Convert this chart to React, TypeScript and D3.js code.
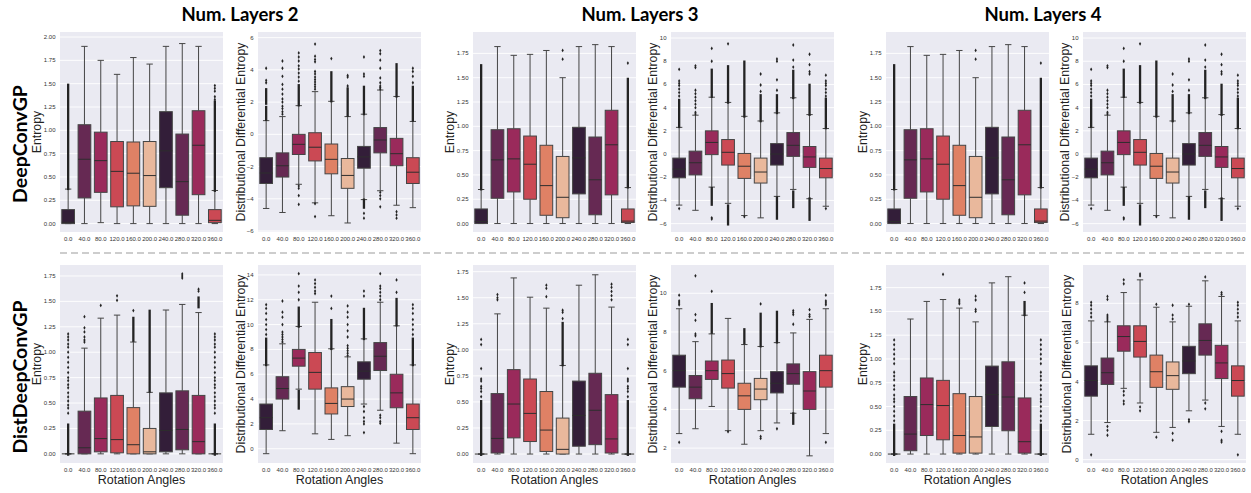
import React from "react";
import * as d3 from "d3";

// Rotation angles on the x axis of every panel
const ANGLES = ["0.0", "40.0", "80.0", "120.0", "160.0", "200.0", "240.0", "280.0", "320.0", "360.0"];

// Seaborn "rocket" (6 colours, desaturated by boxplot), cycled over the 10 angles
const BOX_COLORS = ["#331e39", "#662953", "#9a2a5b", "#cb4954", "#df8165", "#e9b89c", "#331e39", "#662953", "#9a2a5b", "#cb4954"];

const LAYER_TITLES = ["Num. Layers 2", "Num. Layers 3", "Num. Layers 4"];
const MODEL_LABELS = ["DeepConvGP", "DistDeepConvGP"];

// Tick values
const ENT_TICKS_2 = [0, 0.25, 0.5, 0.75, 1.0, 1.25, 1.5, 1.75, 2.0];
const ENT_TICKS = [0, 0.25, 0.5, 0.75, 1.0, 1.25, 1.5, 1.75];
const DDE_TICKS_6 = [-6, -4, -2, 0, 2, 4, 6];
const DDE_TICKS_10 = [-6, -4, -2, 0, 2, 4, 6, 8, 10];
const DDE_TICKS_14 = [0, 2, 4, 6, 8, 10, 12, 14];
const DDE_TICKS_2_10 = [2, 4, 6, 8, 10];
const DDE_TICKS_0_8 = [0, 2, 4, 6, 8];

// Box statistics per angle: [lower whisker, q1, median, q3, upper whisker]
type Stat = [number, number, number, number, number];
// Fliers: single values, or [lo, hi] for a dense run of overlapping fliers
type Flier = number | [number, number];

// ---------- DeepConvGP, 2 layers ----------
const ENT_DEEP_L2: Stat[] = [
  [0, 0, 0.015, 0.15, 0.37],
  [0, 0.275, 0.69, 1.06, 1.9],
  [0.01, 0.335, 0.675, 0.98, 1.75],
  [0, 0.18, 0.56, 0.88, 1.6],
  [0, 0.19, 0.54, 0.875, 1.78],
  [0, 0.185, 0.515, 0.88, 1.71],
  [0, 0.385, 0.78, 1.2, 1.9],
  [0, 0.09, 0.45, 0.96, 1.93],
  [0, 0.31, 0.84, 1.21, 1.9],
  [0, 0.01, 0.035, 0.15, 0.355],
];
const ENT_DEEP_L2_FLIERS: Flier[][] = [
  [[0.38, 1.48]],
  [], [], [], [], [], [], [], [],
  [[0.36, 1.3], 1.33, 1.36, 1.42, 1.45, 1.48],
];
const DDE_DEEP_L2: Stat[] = [
  [-4.6, -3.05, -2.4, -1.45, 0.85],
  [-4.85, -2.65, -1.95, -1.15, 1.1],
  [-3.1, -1.25, -0.62, 0.0, 1.78],
  [-4.25, -1.65, -0.8, 0.1, 2.65],
  [-5.05, -2.45, -1.55, -0.6, 2.05],
  [-5.5, -3.35, -2.55, -1.5, 1.1],
  [-4.05, -2.1, -1.4, -0.75, 1.25],
  [-3.5, -1.15, -0.35, 0.42, 2.75],
  [-4.4, -1.95, -1.2, -0.25, 2.35],
  [-4.55, -3.05, -2.35, -1.45, 0.8],
];
const DDE_DEEP_L2_FLIERS: Flier[][] = [
  [[0.95, 1.65], [1.95, 2.75], 3.2, 3.35, 4.1],
  [1.25, 1.4, 1.6, 1.75, 2.0, 2.2, 2.5, 2.8, 3.1, 3.6, 4.1, 4.55],
  [[1.85, 3.0], 3.3, 3.55, 3.8, 4.05, 4.25, 4.55, 4.8, 5.05, -3.2, -3.35, -3.8, -4.35],
  [2.8, 2.95, 3.1, 3.25, 3.4, 3.55, 3.75, 3.9, 4.5, 4.65, 4.85, 5.6, -4.3, -5.1],
  [[2.1, 3.8], 4.7],
  [[1.2, 2.8], 3.0, 3.55, 3.65],
  [[1.3, 2.9], 3.6, 3.75, 4.8, [-4.5, -4.1], -4.9, -5.2],
  [2.8, 2.9, 3.0, 3.2, 3.5, 4.1, 4.6, 5.0, 5.2, -3.6, -3.8, -4.0, -4.5],
  [[2.4, 4.3], -4.8, -5.0, -5.2],
  [[0.9, 2.9], 3.2, 3.6, 3.9, 4.1],
];

// ---------- DeepConvGP, 3 layers ----------
const ENT_DEEP_L3: Stat[] = [
  [0, 0, 0.02, 0.15, 0.35],
  [0, 0.26, 0.655, 0.965, 1.82],
  [0, 0.325, 0.665, 0.975, 1.73],
  [0, 0.25, 0.61, 0.9, 1.74],
  [0, 0.085, 0.39, 0.805, 1.78],
  [0, 0.06, 0.27, 0.69, 1.5],
  [0, 0.305, 0.675, 0.99, 1.82],
  [0, 0.09, 0.45, 0.89, 1.84],
  [0, 0.295, 0.81, 1.165, 1.82],
  [0, 0.01, 0.025, 0.15, 0.37],
];
const ENT_DEEP_L3_FLIERS: Flier[][] = [
  [[0.36, 1.62]],
  [], [], [], [],
  [1.69, 1.78],
  [], [], [],
  [[0.38, 1.48], 1.65],
];
const DDE_DEEP_L3: Stat[] = [
  [-4.4, -2.05, -1.3, -0.35, 2.3],
  [-4.85, -1.8, -0.75, 0.25, 3.35],
  [-2.85, -0.05, 1.0, 2.0, 4.9],
  [-4.25, -0.95, 0.15, 1.25, 4.45],
  [-5.3, -2.1, -1.05, 0.05, 3.25],
  [-5.5, -2.5, -1.55, -0.35, 2.85],
  [-3.65, -0.95, 0.0, 0.9, 3.55],
  [-3.05, -0.2, 0.75, 1.85, 4.85],
  [-3.85, -1.15, -0.25, 0.65, 3.4],
  [-4.5, -2.05, -1.25, -0.35, 2.2],
];
const DDE_DEEP_L3_FLIERS: Flier[][] = [
  [[2.4, 4.6], 5.0, 5.3, 5.6, 5.9, 6.1, 6.3, 7.3, -4.7],
  [3.45, 3.6, 4.0, 4.3, 4.6, 4.9, 5.2, 5.5, 7.45, 7.6],
  [[5.0, 7.2], 8.0, 9.1, [-4.3, -3.0], -5.5, -5.6],
  [[4.5, 7.5], 9.5, [-6.0, -4.5]],
  [[3.3, 7.9], -5.4],
  [[2.9, 5.0], 5.4, 5.95, 6.9],
  [[3.6, 5.0], 5.5, 6.4, 8.0, 8.2, [-5.5, -3.8]],
  [[4.9, 7.1], 7.5, 8.1, 9.4, [-4.5, -3.3]],
  [[3.45, 5.9], 6.9, 7.1, 7.7, 8.6, [-5.6, -3.9]],
  [[2.3, 4.7], 5.0, 5.3, 5.6, 5.9, 6.1, 6.3, 6.8, -4.7],
];

// ---------- DeepConvGP, 4 layers ----------
const ENT_DEEP_L4: Stat[] = [
  [0, 0, 0.02, 0.15, 0.35],
  [0, 0.26, 0.655, 0.965, 1.82],
  [0, 0.325, 0.665, 0.975, 1.73],
  [0, 0.25, 0.61, 0.9, 1.74],
  [0, 0.085, 0.39, 0.805, 1.78],
  [0, 0.06, 0.27, 0.69, 1.5],
  [0, 0.305, 0.675, 0.99, 1.82],
  [0, 0.09, 0.45, 0.89, 1.84],
  [0, 0.295, 0.81, 1.165, 1.82],
  [0, 0.01, 0.025, 0.15, 0.37],
];
const ENT_DEEP_L4_FLIERS: Flier[][] = [
  [[0.36, 1.62]],
  [], [], [], [],
  [1.69, 1.78],
  [], [], [],
  [[0.38, 1.48], 1.65],
];
const DDE_DEEP_L4: Stat[] = [
  [-4.4, -2.05, -1.3, -0.35, 2.3],
  [-4.85, -1.8, -0.75, 0.25, 3.35],
  [-2.85, -0.05, 1.0, 2.0, 4.9],
  [-4.25, -0.95, 0.15, 1.25, 4.45],
  [-5.3, -2.1, -1.05, 0.05, 3.25],
  [-5.5, -2.5, -1.55, -0.35, 2.85],
  [-3.65, -0.95, 0.0, 0.9, 3.55],
  [-3.05, -0.2, 0.75, 1.85, 4.85],
  [-3.85, -1.15, -0.25, 0.65, 3.4],
  [-4.5, -2.05, -1.25, -0.35, 2.2],
];
const DDE_DEEP_L4_FLIERS: Flier[][] = [
  [[2.4, 4.6], 5.0, 5.3, 5.6, 5.9, 6.1, 6.3, 7.3, -4.7],
  [3.45, 3.6, 4.0, 4.3, 4.6, 4.9, 5.2, 5.5, 7.45, 7.6],
  [[5.0, 7.2], 8.0, 9.1, [-4.3, -3.0], -5.5, -5.6],
  [[4.5, 7.5], 9.5, [-6.0, -4.5]],
  [[3.3, 7.9], -5.4],
  [[2.9, 5.0], 5.4, 5.95, 6.9],
  [[3.6, 5.0], 5.5, 6.4, 8.0, 8.2, [-5.5, -3.8]],
  [[4.9, 7.1], 7.5, 8.1, 9.4, [-4.5, -3.3]],
  [[3.45, 5.9], 6.9, 7.1, 7.7, 8.6, [-5.6, -3.9]],
  [[2.3, 4.7], 5.0, 5.3, 5.6, 5.9, 6.1, 6.3, 6.8, -4.7],
];

// ---------- DistDeepConvGP, 2 layers ----------
const ENT_DIST_L2: Stat[] = [
  [0, 0, 0, 0, 0],
  [0, 0, 0.06, 0.42, 1.04],
  [0, 0.02, 0.15, 0.55, 1.335],
  [0, 0.01, 0.14, 0.575, 1.365],
  [0, 0, 0.09, 0.455, 1.1],
  [0, 0, 0.02, 0.25, 0.605],
  [0, 0.02, 0.23, 0.6, 1.415],
  [0, 0.04, 0.24, 0.62, 1.47],
  [0, 0, 0.12, 0.575, 1.39],
  [0, 0, 0, 0, 0],
];
const ENT_DIST_L2_FLIERS: Flier[][] = [
  [[0.0, 0.28], 0.4, 0.45, 0.48, 0.52, 0.56, 0.6, 0.65, 0.68, 0.72, 0.75, 0.8, 0.85, 0.9, 0.95, 1.0, 1.05, 1.08, 1.12, 1.15, 1.18],
  [1.1, 1.12, 1.15, 1.2, 1.24, 1.35],
  [1.46],
  [1.51, 1.555],
  [[1.12, 1.33], 1.41],
  [[0.62, 1.4]],
  [],
  [1.73, 1.75, 1.77],
  [[1.45, 1.53], 1.6, 1.62],
  [[0.0, 0.28], 0.4, 0.45, 0.48, 0.52, 0.56, 0.6, 0.65, 0.68, 0.72, 0.75, 0.8, 0.85, 0.9, 0.95, 1.0, 1.05, 1.08, 1.12, 1.15, 1.18],
];
const DDE_DIST_L2: Stat[] = [
  [-0.4, 1.55, 2.5, 3.6, 6.75],
  [1.45, 4.0, 4.85, 5.8, 8.45],
  [4.8, 6.65, 7.3, 8.0, 9.85],
  [1.2, 4.8, 6.15, 7.75, 11.8],
  [0.75, 2.8, 3.65, 4.9, 8.05],
  [1.05, 3.4, 4.0, 5.0, 7.4],
  [3.6, 5.6, 6.25, 7.0, 8.85],
  [3.1, 6.3, 7.45, 8.55, 11.8],
  [0.45, 3.3, 4.5, 6.0, 9.9],
  [-0.4, 1.55, 2.5, 3.6, 6.75],
];
const DDE_DIST_L2_FLIERS: Flier[][] = [
  [[6.8, 8.8], 9.2, 9.6, 10.0, 10.4, 10.9, 11.3, 11.6],
  [8.6, 8.8, 9.0, 9.2, 9.4, 10.0, 10.6, 11.0, 11.9],
  [[9.9, 11.3], 12.0, 12.6, 13.1, 14.1, [3.3, 4.6]],
  [12.5, 12.7, 13.0, 13.3, 13.6],
  [[8.1, 10.3], 11.3, 12.3],
  [7.5, 7.7, 7.9, 8.1, 8.3, 9.0, 9.5, 10.0, 10.6, 11.0, 11.5],
  [[8.9, 11.2], 12.3, 12.7, 3.4, 3.0, 2.5, 2.2, 2.0, 1.3],
  [12.0, 12.3, 12.6, 12.9, 13.1, 14.1, 2.7, 2.5, 2.2, 2.05],
  [[10.0, 12.0], 12.6, 13.6],
  [[6.8, 8.8], 9.2, 9.6, 10.0, 10.4, 10.9, 11.3, 11.6],
];

// ---------- DistDeepConvGP, 3 layers ----------
const ENT_DIST_L3: Stat[] = [
  [0, 0, 0, 0, 0],
  [0, 0.01, 0.15, 0.58, 1.345],
  [0, 0.155, 0.48, 0.81, 1.69],
  [0, 0.12, 0.39, 0.72, 1.505],
  [0, 0.025, 0.23, 0.6, 1.4],
  [0, 0, 0.045, 0.345, 0.85],
  [0, 0.075, 0.37, 0.7, 1.62],
  [0, 0.09, 0.42, 0.775, 1.72],
  [0, 0.01, 0.145, 0.57, 1.41],
  [0, 0, 0, 0, 0],
];
const ENT_DIST_L3_FLIERS: Flier[][] = [
  [[0.0, 0.5], 0.55, 0.6, 0.63, 0.65, 0.7, 0.72, 0.82, 1.05, 1.1],
  [1.48, 1.5, 1.53],
  [],
  [],
  [1.51, 1.59, 1.62],
  [[0.86, 1.25], 1.3, 1.36, 1.38],
  [],
  [],
  [1.48, 1.52, 1.56, 1.6, 1.63],
  [[0.0, 0.5], 0.55, 0.6, 0.63, 0.65, 0.7, 0.72, 0.82, 1.05, 1.1],
];
const DDE_DIST_L3: Stat[] = [
  [2.75, 5.15, 6.0, 6.8, 9.2],
  [3.0, 4.55, 5.15, 5.75, 7.5],
  [4.15, 5.55, 6.0, 6.5, 7.9],
  [2.9, 5.1, 5.85, 6.55, 8.7],
  [2.2, 4.0, 4.7, 5.35, 7.35],
  [2.9, 4.5, 5.05, 5.6, 7.25],
  [3.3, 4.85, 5.35, 5.95, 7.45],
  [3.8, 5.3, 5.85, 6.35, 7.95],
  [1.6, 4.0, 4.95, 5.95, 8.65],
  [2.75, 5.15, 6.0, 6.8, 9.2],
];
const DDE_DIST_L3_FLIERS: Flier[][] = [
  [9.4, 9.5, 9.6, 9.9, 2.3],
  [7.8, 7.9, 8.6, 8.9, 10.9],
  [[8.0, 9.4], 10.1],
  [2.85],
  [[7.45, 8.1]],
  [[7.3, 8.9], 9.45, 2.6, 2.5],
  [[7.5, 9.0], 3.0],
  [8.4, 8.9, 9.0, 9.1, [3.3, 3.75]],
  [8.8, 8.9, 9.15],
  [9.4, 9.5, 9.6, 9.9, 2.3],
];

// ---------- DistDeepConvGP, 4 layers ----------
const ENT_DIST_L4: Stat[] = [
  [0, 0, 0, 0, 0],
  [0, 0.035, 0.21, 0.605, 1.42],
  [0, 0.195, 0.52, 0.8, 1.605],
  [0, 0.15, 0.51, 0.775, 1.625],
  [0, 0.01, 0.195, 0.635, 1.535],
  [0, 0.01, 0.18, 0.605, 1.39],
  [0, 0.29, 0.625, 0.925, 1.8],
  [0, 0.245, 0.6, 0.97, 1.865],
  [0, 0.01, 0.13, 0.59, 1.46],
  [0, 0, 0, 0, 0],
];
const ENT_DIST_L4_FLIERS: Flier[][] = [
  [[0.0, 0.3], 0.35, 0.4, 0.45, 0.5, 0.55, 0.58, 0.62, 0.68, 0.72, 0.78, 0.82, 0.86, 0.95, 1.0, 1.05, 1.1, 1.15, 1.2],
  [],
  [],
  [1.89],
  [1.58, 1.6, 1.62],
  [1.5, 1.52, 1.62, 1.66],
  [],
  [],
  [[1.47, 1.59], 1.7, 1.8],
  [[0.0, 0.3], 0.35, 0.4, 0.45, 0.5, 0.55, 0.58, 0.62, 0.68, 0.72, 0.78, 0.82, 0.86, 0.95, 1.0, 1.05, 1.1, 1.15, 1.2],
];
const DDE_DIST_L4: Stat[] = [
  [1.3, 3.25, 4.05, 4.8, 7.1],
  [1.9, 3.85, 4.45, 5.2, 7.05],
  [3.65, 5.55, 6.3, 6.85, 8.55],
  [2.9, 5.25, 6.05, 6.85, 9.2],
  [1.4, 3.7, 4.5, 5.35, 7.8],
  [1.65, 3.6, 4.3, 5.0, 7.05],
  [2.5, 4.4, 5.05, 5.8, 7.85],
  [3.05, 5.35, 6.1, 6.95, 9.15],
  [1.7, 4.15, 4.95, 5.85, 8.35],
  [1.3, 3.25, 4.05, 4.8, 7.1],
];
const DDE_DIST_L4_FLIERS: Flier[][] = [
  [7.3, 7.5, 7.7, 7.9, 8.05, 0.25],
  [7.1, 7.2, 7.3, 7.4, 8.2, 8.35, 1.7, 1.5, 1.25],
  [9.0, 9.2, 3.5, 3.3, 3.0, 2.85],
  [9.4, 9.5, 2.7, 2.5],
  [7.95, 1.15],
  [7.2, 7.4, 7.9, 1.35, 1.0],
  [7.95, 2.05, 1.95],
  [9.35, 2.9, 2.6],
  [8.45, 8.55, 1.45, 1.0, 0.9],
  [7.3, 7.5, 7.7, 7.9, 8.05, 0.25],
];

// ---------- layout ----------
const WIDTH = 1251;
const HEIGHT = 493;
const ROW_TOP = [32, 265];
const ROW_H = [200, 198];
const COL_LEFT = [60, 258, 473, 671, 886, 1083];
const PLOT_W = 163;
const TITLE_X = [240, 640, 1043];
const MODEL_Y = [144, 377];

const SANS = "'Liberation Sans', Arial, sans-serif";
const BOLD = "Lato, 'Open Sans', sans-serif";
const LINE = "#454545";
const FLIER = "#232323";

interface Panel {
  row: number;
  col: number;
  stats: Stat[];
  fliers: Flier[][];
  domain: [number, number];
  ticks: number[];
  fmt: string;
  ylabel: string;
  labelGap: number;
}

const ENT = "Entropy";
const DDE = "Distributional Differential Entropy";

const PANELS: Panel[] = [
  { row: 0, col: 0, stats: ENT_DEEP_L2, fliers: ENT_DEEP_L2_FLIERS, domain: [-0.09, 2.054], ticks: ENT_TICKS_2, fmt: ".2f", ylabel: ENT, labelGap: 23 },
  { row: 0, col: 1, stats: DDE_DEEP_L2, fliers: DDE_DEEP_L2_FLIERS, domain: [-6.06, 6.35], ticks: DDE_TICKS_6, fmt: "d", ylabel: DDE, labelGap: 17.5 },
  { row: 0, col: 2, stats: ENT_DEEP_L3, fliers: ENT_DEEP_L3_FLIERS, domain: [-0.087, 1.97], ticks: ENT_TICKS, fmt: ".2f", ylabel: ENT, labelGap: 23 },
  { row: 0, col: 3, stats: DDE_DEEP_L3, fliers: DDE_DEEP_L3_FLIERS, domain: [-6.72, 10.52], ticks: DDE_TICKS_10, fmt: "d", ylabel: DDE, labelGap: 18 },
  { row: 0, col: 4, stats: ENT_DEEP_L4, fliers: ENT_DEEP_L4_FLIERS, domain: [-0.087, 1.97], ticks: ENT_TICKS, fmt: ".2f", ylabel: ENT, labelGap: 23 },
  { row: 0, col: 5, stats: DDE_DEEP_L4, fliers: DDE_DEEP_L4_FLIERS, domain: [-6.72, 10.52], ticks: DDE_TICKS_10, fmt: "d", ylabel: DDE, labelGap: 18 },
  { row: 1, col: 0, stats: ENT_DIST_L2, fliers: ENT_DIST_L2_FLIERS, domain: [-0.09, 1.858], ticks: ENT_TICKS, fmt: ".2f", ylabel: ENT, labelGap: 23 },
  { row: 1, col: 1, stats: DDE_DIST_L2, fliers: DDE_DIST_L2_FLIERS, domain: [-1.15, 14.8], ticks: DDE_TICKS_14, fmt: "d", ylabel: DDE, labelGap: 17.5 },
  { row: 1, col: 2, stats: ENT_DIST_L3, fliers: ENT_DIST_L3_FLIERS, domain: [-0.086, 1.814], ticks: ENT_TICKS, fmt: ".2f", ylabel: ENT, labelGap: 23 },
  { row: 1, col: 3, stats: DDE_DIST_L3, fliers: DDE_DIST_L3_FLIERS, domain: [1.23, 11.46], ticks: DDE_TICKS_2_10, fmt: "d", ylabel: DDE, labelGap: 18 },
  { row: 1, col: 4, stats: ENT_DIST_L4, fliers: ENT_DIST_L4_FLIERS, domain: [-0.094, 1.988], ticks: ENT_TICKS, fmt: ".2f", ylabel: ENT, labelGap: 23 },
  { row: 1, col: 5, stats: DDE_DIST_L4, fliers: DDE_DIST_L4_FLIERS, domain: [-0.17, 9.96], ticks: DDE_TICKS_0_8, fmt: "d", ylabel: DDE, labelGap: 16.5 },
];

const DIAMOND = "M0,-1.9L1.15,0L0,1.9L-1.15,0Z";

function BoxPanel({ p }: { p: Panel }) {
  const left = COL_LEFT[p.col];
  const top = ROW_TOP[p.row];
  const h = ROW_H[p.row];
  const x = d3.scaleBand<string>().domain(ANGLES).range([left, left + PLOT_W]).padding(0);
  const y = d3.scaleLinear().domain(p.domain).range([top + h, top]);
  const bw = x.bandwidth();
  const boxW = bw * 0.78;
  const capW = boxW * 0.5;
  const fmt = d3.format(p.fmt);

  return (
    <g>
      <rect x={left} y={top} width={PLOT_W} height={h} fill="#eaeaf2" />
      {p.ticks.map((t) => (
        <line key={`g${t}`} x1={left} x2={left + PLOT_W} y1={y(t)} y2={y(t)} stroke="#ffffff" strokeWidth={0.9} />
      ))}
      {p.ticks.map((t) => (
        <text key={`t${t}`} x={left - 4.5} y={y(t)} dy="0.34em" textAnchor="end" fontSize={6} fill="#333" fontFamily={SANS}>
          {fmt(t)}
        </text>
      ))}
      {ANGLES.map((a) => (
        <text key={`x${a}`} x={(x(a) as number) + bw / 2} y={top + h + 8.6} textAnchor="middle" fontSize={6} fill="#333" fontFamily={SANS}>
          {a}
        </text>
      ))}
      <text
        transform={`translate(${left - p.labelGap},${top + h / 2}) rotate(-90)`}
        dy="0.36em"
        textAnchor="middle"
        fontSize={12.3}
        fill="#222"
        fontFamily={SANS}
      >
        {p.ylabel}
      </text>
      {p.row === 1 && (
        <text x={left + PLOT_W / 2} y={484} textAnchor="middle" fontSize={12.5} fill="#222" fontFamily={SANS}>
          Rotation Angles
        </text>
      )}
      {p.stats.map((s, i) => {
        const cx = (x(ANGLES[i]) as number) + bw / 2;
        const [lo, q1, med, q3, hi] = s;
        return (
          <g key={`b${i}`}>
            <line x1={cx} x2={cx} y1={y(q3)} y2={y(hi)} stroke={LINE} strokeWidth={1} />
            <line x1={cx} x2={cx} y1={y(q1)} y2={y(lo)} stroke={LINE} strokeWidth={1} />
            <line x1={cx - capW / 2} x2={cx + capW / 2} y1={y(hi)} y2={y(hi)} stroke={LINE} strokeWidth={1} />
            <line x1={cx - capW / 2} x2={cx + capW / 2} y1={y(lo)} y2={y(lo)} stroke={LINE} strokeWidth={1} />
            <rect
              x={cx - boxW / 2}
              y={y(q3)}
              width={boxW}
              height={Math.max(0, y(q1) - y(q3))}
              fill={BOX_COLORS[i]}
              stroke={LINE}
              strokeWidth={1}
            />
            <line x1={cx - boxW / 2} x2={cx + boxW / 2} y1={y(med)} y2={y(med)} stroke="#2e2e2e" strokeWidth={1} />
            {p.fliers[i].map((f, k) => {
              if (Array.isArray(f)) {
                const a = Math.max(f[0], f[1]);
                const b = Math.min(f[0], f[1]);
                return <rect key={`f${k}`} x={cx - 1.15} y={y(a) - 1.9} width={2.3} height={y(b) - y(a) + 3.8} fill={FLIER} />;
              }
              return <path key={`f${k}`} d={DIAMOND} transform={`translate(${cx},${y(f)})`} fill={FLIER} />;
            })}
          </g>
        );
      })}
    </g>
  );
}

export default function App() {
  return (
    <svg
      width={WIDTH}
      height={HEIGHT}
      viewBox={`0 0 ${WIDTH} ${HEIGHT}`}
      style={{ position: "absolute", left: 0, top: 0, background: "#ffffff" }}
    >
      <rect x={0} y={0} width={WIDTH} height={HEIGHT} fill="#ffffff" />
      {LAYER_TITLES.map((t, i) => (
        <text key={t} x={TITLE_X[i]} y={20.5} textAnchor="middle" fontSize={18.5} fontWeight={700} fill="#000" fontFamily={BOLD}>
          {t}
        </text>
      ))}
      {MODEL_LABELS.map((t, i) => (
        <text
          key={t}
          transform={`translate(20,${MODEL_Y[i]}) rotate(-90)`}
          dy="0.36em"
          textAnchor="middle"
          fontSize={19.5}
          fontWeight={700}
          fill="#000"
          fontFamily={BOLD}
        >
          {t}
        </text>
      ))}
      <line x1={60} x2={1246} y1={253} y2={253} stroke="#bdbdbd" strokeWidth={1.5} strokeDasharray="7 4" />
      {PANELS.map((p, i) => (
        <BoxPanel key={i} p={p} />
      ))}
    </svg>
  );
}
